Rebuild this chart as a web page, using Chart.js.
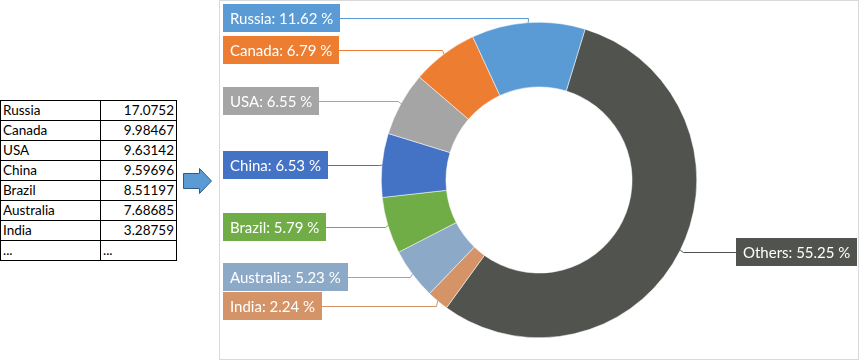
<!DOCTYPE html>
<html><head><meta charset="utf-8">
<script src="https://cdn.jsdelivr.net/npm/chart.js@4.4.1/dist/chart.umd.min.js"></script>
<style>
html,body{margin:0;padding:0;background:#fff;width:859px;height:360px;overflow:hidden;}
#tbl{position:absolute;left:0;top:100px;border-collapse:collapse;table-layout:fixed;width:176px;font-family:Lato;font-size:13.5px;color:#000;}
#tbl td{border:1px solid #000;height:19px;padding:0 2px;line-height:19px;white-space:nowrap;overflow:hidden;}
#tbl td.v{text-align:right;}
#arrow{position:absolute;left:182px;top:167px;}
#box{position:absolute;left:219px;top:0;width:638px;height:358px;border:1px solid #D9D9D9;}
canvas{display:block;}
</style>
</head><body>
<table id="tbl"><colgroup><col style="width:100px"><col style="width:76px"></colgroup><tbody id="tb"></tbody></table>
<svg id="arrow" width="32" height="28"><polygon points="1.5,6.5 17.5,6.5 17.5,1.5 29.5,14 17.5,26.5 17.5,21.5 1.5,21.5" fill="#5B9BD5" stroke="#2E5D8A" stroke-width="1"/></svg>
<div id="box"><canvas id="c" width="638" height="358"></canvas></div>
<script>
// table data
const tableNames = ['Russia','Canada','USA','China','Brazil','Australia','India','...'];
const tableValues = ['17.0752','9.98467','9.63142','9.59696','8.51197','7.68685','3.28759','...'];
// chart data
const categories = ['Russia','Canada','USA','China','Brazil','Australia','India','Others'];
const shares = [11.62,6.79,6.55,6.53,5.79,5.23,2.24,55.25];
const colors = ['#5B9BD5','#ED7D31','#A5A5A5','#4472C4','#70AD47','#8CAAC8','#D59468','#51534F'];

const tb = document.getElementById('tb');
tableNames.forEach((n,i)=>{
  const tr=document.createElement('tr');
  const a=document.createElement('td'); a.textContent=n;
  const b=document.createElement('td'); b.textContent=tableValues[i];
  if(tableValues[i]!=='...') b.className='v';
  tr.appendChild(a); tr.appendChild(b); tb.appendChild(tr);
});

// slices are drawn clockwise in reverse order
const cLabels = categories.slice().reverse();
const cData = shares.slice().reverse();
const cColors = colors.slice().reverse();

const labelPlugin = {
  id:'leaderLabels',
  afterDatasetsDraw(chart){
    const ctx = chart.ctx;
    const meta = chart.getDatasetMeta(0);
    const W = chart.width;
    ctx.save();
    ctx.font = '15px Lato';
    ctx.textBaseline = 'middle';
    const items = meta.data.map((arc,i)=>{
      const p = arc.getProps(['x','y','startAngle','endAngle','outerRadius'],true);
      const mid = (p.startAngle+p.endAngle)/2;
      const R = p.outerRadius;
      const txt = cLabels[i] + ': ' + cData[i].toFixed(2) + ' %';
      const w = Math.round(ctx.measureText(txt).width) + 14;
      return {
        txt, w, color:cColors[i],
        left: Math.cos(mid) < 0,
        ax: p.x + Math.cos(mid)*R, ay: p.y + Math.sin(mid)*R,
        ex: p.x + Math.cos(mid)*(R+3),
        ly: p.y + Math.sin(mid)*(R+5)
      };
    });
    const H = 28, gap = 29;
    [true,false].forEach(side=>{
      const arr = items.filter(it=>it.left===side).sort((a,b)=>a.ly-b.ly);
      for(let k=1;k<arr.length;k++){
        if(arr[k].ly < arr[k-1].ly + gap) arr[k].ly = arr[k-1].ly + gap;
      }
    });
    items.forEach(it=>{
      const y = Math.round(it.ly);
      const bx = it.left ? 3 : W - 1 - it.w;
      const edge = it.left ? bx + it.w : bx;
      ctx.strokeStyle = it.color;
      ctx.lineWidth = 1;
      ctx.beginPath();
      ctx.moveTo(edge, y+0.5);
      ctx.lineTo(Math.round(it.ex)+0.5, y+0.5);
      ctx.lineTo(it.ax, it.ay);
      ctx.stroke();
      ctx.fillStyle = it.color;
      ctx.fillRect(bx, y - H/2, it.w, H);
      ctx.fillStyle = '#fff';
      ctx.textAlign = 'left';
      ctx.fillText(it.txt, bx + 7, y + 1);
    });
    ctx.restore();
  }
};

new Chart(document.getElementById('c'), {
  type:'doughnut',
  data:{ labels:cLabels, datasets:[{ data:cData, backgroundColor:cColors, borderColor:'#ffffff', borderWidth:0.5 }] },
  options:{
    responsive:false, animation:false,
    rotation:17, cutout:'59%',
    layout:{ padding:{ top:21, bottom:21 } },
    plugins:{ legend:{display:false}, tooltip:{enabled:false} }
  },
  plugins:[labelPlugin]
});
</script>
</body></html>
